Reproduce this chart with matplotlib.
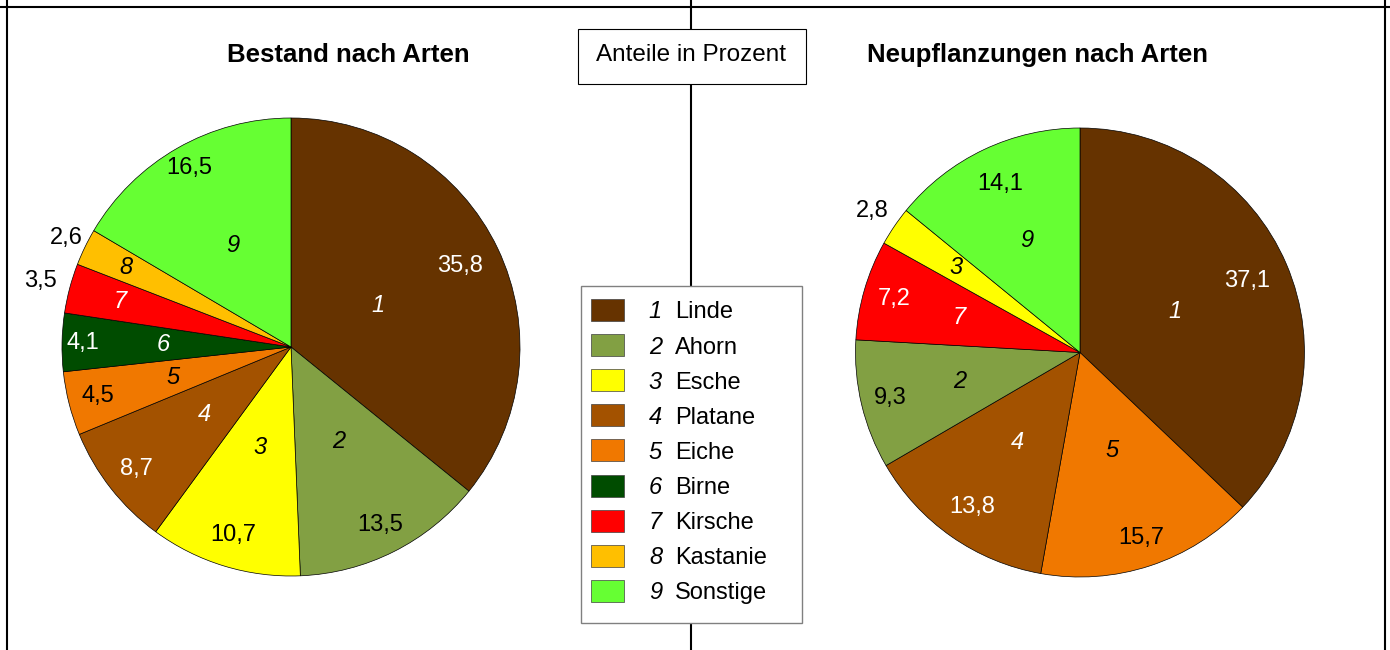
#!/usr/bin/env python3
# -*- coding: utf-8 -*-

'''
plot.py

Two pie charts of tree species (stock vs. new plantings) with a shared legend
'''

import matplotlib
matplotlib.use('Agg')
import matplotlib.pyplot as plt
from matplotlib.patches import Rectangle
import numpy as np

plt.rcParams['font.family'] = ['Liberation Sans', 'DejaVu Sans']

#---------------------------------------------------------------------
# 01. Data
#---------------------------------------------------------------------

species_nr = [1, 2, 3, 4, 5, 6, 7, 8, 9]
species_name = ['Linde', 'Ahorn', 'Esche', 'Platane', 'Eiche', 'Birne',
                'Kirsche', 'Kastanie', 'Sonstige']
species_color = ['#663300', '#82A043', '#FFFF00', '#A35200', '#F07800',
                 '#004C00', '#FF0000', '#FFBF00', '#66FF33']
dark_species = [1, 4, 6, 7]   # white text on these slices

bestand_nr = [1, 2, 3, 4, 5, 6, 7, 8, 9]
bestand_val = [35.8, 13.5, 10.7, 8.7, 4.5, 4.1, 3.5, 2.6, 16.5]

neu_nr = [1, 5, 4, 2, 7, 3, 9]
neu_val = [37.1, 15.7, 13.8, 9.3, 7.2, 2.8, 14.1]

title_left = 'Bestand nach Arten'
title_right = 'Neupflanzungen nach Arten'
unit_text = 'Anteile in Prozent'

#---------------------------------------------------------------------
# 02. Layout (pixel coordinates, y measured from top)
#---------------------------------------------------------------------

W, H = 1390, 650

# label radii as fraction of radius (value label, number label)
bestand_val_r = [0.82, 0.87, 0.86, 0.86, 0.87, 0.91, 1.13, 1.09, 0.90]
bestand_nr_r = [0.42, 0.46, 0.46, 0.48, 0.53, 0.56, 0.77, 0.80, 0.51]
neu_val_r = [0.81, 0.87, 0.84, 0.87, 0.86, 1.12, 0.83]
neu_nr_r = [0.46, 0.46, 0.49, 0.55, 0.56, 0.67, 0.55]


def fy(y):
    return H - y


def draw_pie(ax, nrs, vals, cx, cy, r, val_r, nr_r):
    colors = [species_color[n - 1] for n in nrs]
    wedges, _ = ax.pie(vals, colors=colors, startangle=90, counterclock=False,
                       center=(cx, fy(cy)), radius=r, frame=True,
                       wedgeprops=dict(edgecolor='black', linewidth=0.5))
    for w, n, v, rv, rn in zip(wedges, nrs, vals, val_r, nr_r):
        ang = np.deg2rad((w.theta1 + w.theta2) / 2.0)
        dark = n in dark_species
        col_in = 'white' if dark else 'black'
        col_v = col_in if rv <= 1.0 else 'black'
        ax.text(cx + rv * r * np.cos(ang), fy(cy) + rv * r * np.sin(ang),
                '{0:.1f}'.format(v).replace('.', ','), color=col_v,
                fontsize=17, ha='center', va='center')
        ax.text(cx + rn * r * np.cos(ang), fy(cy) + rn * r * np.sin(ang),
                str(n), color=col_in, fontsize=17, style='italic',
                ha='center', va='center')


def main():

    fig = plt.figure(figsize=(W / 100, H / 100), dpi=100)
    ax = fig.add_axes([0, 0, 1, 1])

    # frame lines
    ax.plot([0, W], [fy(7), fy(7)], color='black', linewidth=1.5, zorder=1)
    for x in [7, 690.5, 1384.5]:
        ax.plot([x, x], [fy(0), fy(H)], color='black', linewidth=1.5, zorder=1)

    draw_pie(ax, bestand_nr, bestand_val, 291, 347, 229, bestand_val_r, bestand_nr_r)
    draw_pie(ax, neu_nr, neu_val, 1080, 352.5, 224.5, neu_val_r, neu_nr_r)

    # titles
    ax.text(348.5, fy(62), title_left, fontsize=18.5, fontweight='bold',
            ha='center', va='baseline')
    ax.text(1037.5, fy(62), title_right, fontsize=18.5, fontweight='bold',
            ha='center', va='baseline')

    # unit box
    ax.add_patch(Rectangle((577.5, fy(84)), 228, 55, facecolor='white',
                           edgecolor='black', linewidth=0.8, zorder=3))
    ax.text(691.5, fy(61), unit_text, fontsize=17.5, ha='center',
            va='baseline', zorder=4)

    # legend box
    ax.add_patch(Rectangle((581, fy(623)), 221, 337, facecolor='white',
                           edgecolor='#808080', linewidth=1.0, zorder=3))
    for i, (n, name, c) in enumerate(zip(species_nr, species_name, species_color)):
        yc = 310 + i * 35.1
        ax.add_patch(Rectangle((591, fy(yc + 11)), 33, 22, facecolor=c,
                               edgecolor='#404040', linewidth=0.5, zorder=4))
        ax.text(662, fy(yc + 8.5), str(n), fontsize=17, style='italic',
                ha='right', va='baseline', zorder=4)
        ax.text(675, fy(yc + 8.5), name, fontsize=17, ha='left',
                va='baseline', zorder=4)

    ax.set_xlim(0, W)
    ax.set_ylim(0, H)
    ax.set_aspect('auto')
    ax.axis('off')

    plt.savefig('out.png', dpi=100)
    plt.close(fig)


if __name__ == '__main__':
    main()
